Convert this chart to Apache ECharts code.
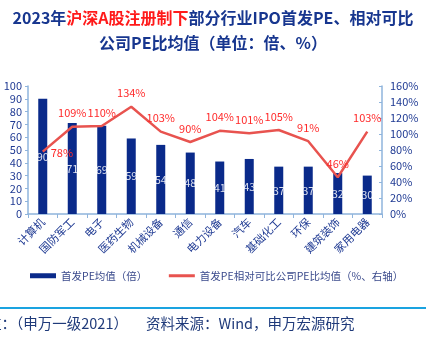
<!DOCTYPE html>
<html><head><meta charset="utf-8">
<script src="https://cdn.jsdelivr.net/npm/echarts@6/dist/echarts.min.js"></script>
<style>html,body{margin:0;padding:0;background:#fff}#c{width:426px;height:339px}</style>
</head><body><div id="c"></div>
<script>
const categories = ['计算机','国防军工','电子','医药生物','机械设备','通信','电力设备','汽车','基础化工','环保','建筑装饰','家用电器'];
const peValues = [90,71,69,59,54,48,41,43,37,37,32,30];
const ratioValues = [78,109,110,134,103,90,104,101,105,91,46,103];
const leftTicks = {min:0,max:100,interval:10};
const rightTicks = {min:0,max:160,interval:20};

const font = '"Noto Sans CJK SC", "Noto Sans", sans-serif';
const blue = '#1f3a93';
const chart = echarts.init(document.getElementById('c'));
chart.setOption({
  animation:false,
  textStyle:{fontFamily:font},
  title:[
    {text:'{b|2023年}{r|沪深A股注册制下}{b|部分行业IPO首发PE、相对可比}',left:'center',top:5,
     textStyle:{rich:{b:{fontSize:16,fontWeight:'bold',color:'#17368f',fontFamily:font},r:{fontSize:16,fontWeight:'bold',color:'#ff1a1a',fontFamily:font}}}},
    {text:'公司PE比均值（单位：倍、%）',left:'center',top:30,
     textStyle:{fontSize:16,fontWeight:'bold',color:'#17368f',fontFamily:font}}
  ],
  grid:{left:28,right:44,top:86,bottom:125},
  legend:{bottom:53,left:25,itemGap:20,itemWidth:26,itemHeight:5,
    textStyle:{fontSize:10.5,color:'#3a4a8c',fontFamily:font},
    data:[{name:'首发PE均值（倍）',icon:'rect'},{name:'首发PE相对可比公司PE比均值（%、右轴）',itemStyle:{opacity:0},lineStyle:{width:3,color:'#e8534f'}}]},
  xAxis:{type:'category',data:categories,
    axisLine:{lineStyle:{color:'#8fb4dc',width:1.5}},
    axisTick:{show:true,length:4,lineStyle:{color:'#8fb4dc'}},
    axisLabel:{rotate:45,fontSize:11,color:blue,interval:0,margin:6,fontFamily:font}},
  yAxis:[
    {type:'value',min:leftTicks.min,max:leftTicks.max,interval:leftTicks.interval,
     splitLine:{show:false},
     axisLine:{show:true,lineStyle:{color:'#8fb4dc',width:1.5}},
     axisTick:{show:true,length:3,lineStyle:{color:'#8fb4dc'}},
     axisLabel:{fontSize:11,color:blue,margin:6,fontFamily:font}},
    {type:'value',min:rightTicks.min,max:rightTicks.max,interval:rightTicks.interval,
     splitLine:{show:false},
     axisLine:{show:true,lineStyle:{color:'#8fb4dc',width:1.5}},
     axisTick:{show:true,inside:true,length:3,lineStyle:{color:'#8fb4dc'}},
     axisLabel:{fontSize:11,color:blue,margin:8,formatter:'{value}%',fontFamily:font}}
  ],
  series:[
    {name:'首发PE均值（倍）',type:'bar',data:peValues,barWidth:9,
     itemStyle:{color:'#0a2a8a'},
     label:{show:true,position:'inside',color:'rgba(255,255,255,0.85)',fontSize:11,fontFamily:font}},
    {name:'首发PE相对可比公司PE比均值（%、右轴）',type:'line',yAxisIndex:1,
     data:ratioValues.map((v,i)=>i===0?{value:v,label:{position:'right',offset:[0,1]}}:v),
     symbol:'circle',symbolSize:0,showSymbol:true,
     lineStyle:{color:'#e8534f',width:2.5},itemStyle:{color:'#e8534f'},
     label:{show:true,position:'top',distance:8,formatter:'{c}%',color:'#ff2a2a',fontSize:11,fontFamily:font}}
  ],
  graphic:[
    {type:'rect',shape:{x:0,y:307,width:426,height:2},style:{fill:'#1aa3e0'}},
    {type:'text',left:-13,top:316,style:{text:'注：（申万一级2021）',fontSize:14.5,fill:'#1f3a7a',fontFamily:font}},
    {type:'text',left:146,top:316,style:{text:'资料来源：Wind，申万宏源研究',fontSize:14.5,fill:'#1f3a7a',fontFamily:font}}
  ]
});
</script></body></html>
